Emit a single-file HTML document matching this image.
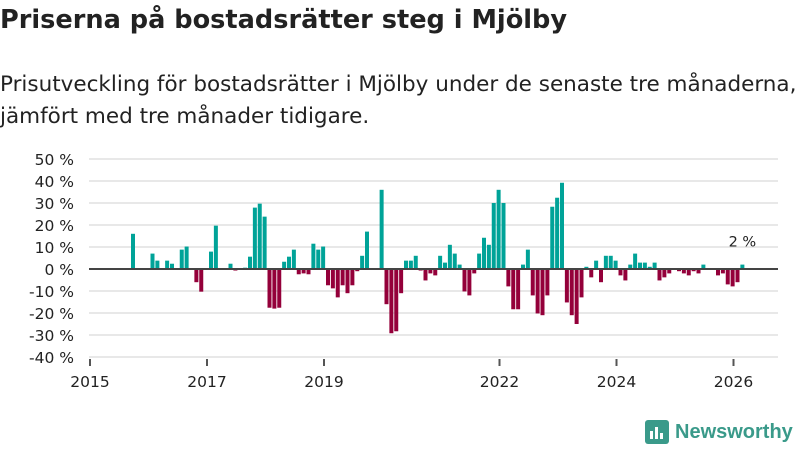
<!DOCTYPE html>
<html><head><meta charset="utf-8"><style>
body{margin:0;width:800px;height:450px;background:#fff;font-family:"DejaVu Sans",sans-serif;overflow:hidden;position:relative}
.title{position:absolute;left:0;top:5px;font-size:25.6px;font-weight:bold;color:#222;white-space:nowrap}
.sub{position:absolute;left:0;top:69px;font-size:21.5px;line-height:32px;color:#222;white-space:nowrap}
</style></head><body>
<div class="title">Priserna på bostadsrätter steg i Mjölby</div>
<div class="sub">Prisutveckling för bostadsrätter i Mjölby under de senaste tre månaderna,<br>jämfört med tre månader tidigare.</div>
<svg id="chart" width="800" height="450" style="position:absolute;left:0;top:0"></svg>
<div style="position:absolute;left:645px;top:420px;display:flex;align-items:center">
<div style="width:24px;height:24px;background:#3a9a8a;border-radius:3px;position:relative"><div style="position:absolute;left:5px;bottom:5px;width:3px;height:8px;background:#fff"></div><div style="position:absolute;left:10px;bottom:5px;width:3px;height:12px;background:#fff"></div><div style="position:absolute;left:15px;bottom:5px;width:3px;height:6px;background:#fff"></div></div>
<span style="margin-left:6px;font-size:20px;font-weight:bold;color:#3a9a8a;font-family:'Liberation Sans',sans-serif">Newsworthy</span></div>
<script>
const monthIndex=[8,12,13,15,16,18,19,21,22,24,25,28,29,31,32,33,34,35,36,37,38,39,40,41,42,43,44,45,46,47,48,49,50,51,52,53,54,55,56,59,60,61,62,63,64,65,66,67,68,69,70,71,72,73,74,75,76,77,78,79,80,81,82,83,84,85,86,87,88,89,90,91,92,93,94,95,96,97,98,99,100,101,102,103,104,105,106,107,108,109,110,111,112,113,114,115,116,117,118,120,121,122,123,124,125,128,129,130,131,132,133];
const values=[16,7,3.8,3.8,2.4,8.8,10.2,-6,-10.3,7.9,19.7,2.4,-0.7,0.6,5.6,27.9,29.7,23.8,-17.6,-18,-17.6,3.3,5.6,8.8,-2.4,-2,-2.4,11.5,8.8,10.2,-7.4,-8.8,-12.9,-7.4,-11,-7.4,-1,6,17,36,-16,-29.2,-28.3,-11,3.8,3.8,6,-0.7,-5.2,-2,-2.9,6,2.9,11,7,2,-10.2,-12,-2,7,14.2,11,30,36,30,-7.9,-18.3,-18.3,2,8.8,-12,-20.2,-21,-12,28.3,32.4,39.2,-15.2,-21,-25,-12.9,1,-3.8,3.8,-6,6,6,3.8,-2.9,-5.2,2,7,2.9,2.9,1,2.9,-5.2,-3.8,-2,-1,-2,-2.9,-1,-2,2,-2.9,-2,-7,-7.9,-6,2];
const yTicks=[50,40,30,20,10,0,-10,-20,-30,-40];
const xYears=[2015,2017,2019,2022,2024,2026];
const svg=document.getElementById('chart');const NS='http://www.w3.org/2000/svg';
const y=v=>269-v*2.2;const xm=i=>90+i*4.875;const xy=yr=>90+(yr-2015)*58.5;
const FF='DejaVu Sans, sans-serif';
function el(t,a){const e=document.createElementNS(NS,t);for(const k in a)e.setAttribute(k,a[k]);svg.appendChild(e);return e;}
yTicks.forEach(v=>{const l=el('line',{x1:89,x2:778,y1:y(v),y2:y(v),stroke:'#e0e0e0','stroke-width':1.5});


const t=el('text',{x:74,y:y(v)+6,'text-anchor':'end','font-size':15.5,fill:'#222','font-family':FF});t.textContent=v+' %';

});
values.forEach((v,k)=>{const r=el('rect',{x:xm(monthIndex[k])+2,width:4,y:v>=0?y(v):y(0),height:Math.abs(v)*2.2,fill:v>=0?'#00a398':'#94003a'});

});
const z=el('line',{x1:89,x2:778,y1:y(0),y2:y(0),stroke:'#444','stroke-width':2});


xYears.forEach(yr=>{const tk=el('line',{x1:xy(yr),x2:xy(yr),y1:359,y2:366,stroke:'#555','stroke-width':2});


const t=el('text',{x:xy(yr),y:387,'text-anchor':'middle','font-size':15.5,fill:'#222','font-family':FF});t.textContent=yr;

});
const last=values.length-1;
const lb=el('text',{x:xm(monthIndex[last])+4,y:y(values[last])-18,'text-anchor':'middle','font-size':14.5,fill:'#222','font-family':FF});lb.textContent=Math.round(values[last])+' %';


</script>
</body></html>
